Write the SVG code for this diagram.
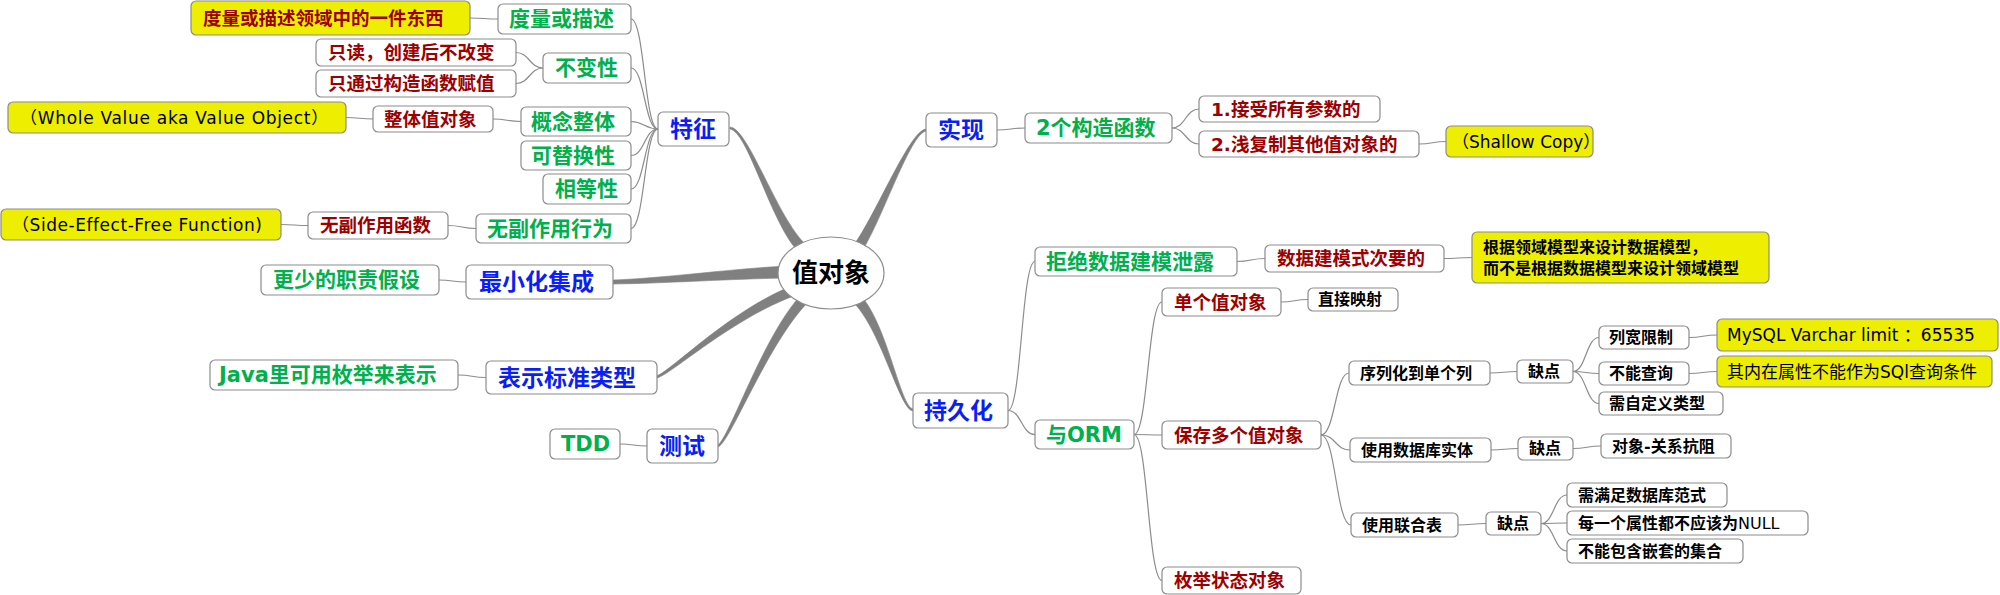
<svg xmlns="http://www.w3.org/2000/svg" width="2000" height="595" viewBox="0 0 2000 595">
<style>
.box{fill:#fff;stroke:#8c8c8c;stroke-width:1.2}
.yel{fill:#eeee00;stroke:#8c8c8c;stroke-width:1.2}
text{font-family:"DejaVu Sans","Noto Sans CJK SC",sans-serif;dominant-baseline:central}
.t1{font-size:23px;font-weight:bold;fill:#0a1ef5}
.t2{font-size:21px;font-weight:bold;fill:#00b04c}
.t3{font-size:18.5px;font-weight:bold;fill:#9c0000}
.t4{font-size:16px;font-weight:bold;fill:#000}
.ty{font-size:17px;fill:#000}
.n{font-weight:normal}
.root{font-size:26px;font-weight:bold;fill:#000}
.link{fill:none;stroke:#8c8c8c;stroke-width:1.2}
.branch{fill:#808080;stroke:#808080;stroke-width:0.6}
</style>
<g id="connectors">
<path class="branch" d="M729.9 129 C747.8 131.5 769 217.7 796.3 249.4 L803.7 242.6 C775 212.3 748.2 128.5 730.1 127 Z"/>
<path class="branch" d="M925.9 129 C909.8 130.5 876.7 212.8 853.8 245.2 L862.2 250.8 C883.3 217.2 910.2 133.5 926.1 131 Z"/>
<path class="branch" d="M613 284 C660 283.5 730 279 786 278 L786 266 C730 269 660 278.5 613 280 Z"/>
<path class="branch" d="M657.3 378 C672.5 373.4 731.4 318.7 796.8 294.7 L793.2 285.3 C728.6 311.3 671.5 370.6 656.7 376 Z"/>
<path class="branch" d="M718.4 446.9 C730.7 441.3 767.9 342.8 808.6 301.5 L801.4 294.5 C762.1 337.2 729.3 438.7 717.6 445.1 Z"/>
<path class="branch" d="M913.2 409 C900.2 406.5 888 327.3 861.7 296.7 L854.3 303.3 C882 332.7 899.8 409.5 912.8 411 Z"/>
<path class="link" d="M658 129 C644.5 129 644.5 19 631 19"/>
<path class="link" d="M658 129 C644.5 129 644.5 68 631 68"/>
<path class="link" d="M658 129 C644.5 129 644.5 121.5 631 121.5"/>
<path class="link" d="M658 129 C644.5 129 644.5 155.5 631 155.5"/>
<path class="link" d="M658 129 C644.5 129 644.5 189 631 189"/>
<path class="link" d="M658 129 C644.5 129 644.5 228.5 631 228.5"/>
<path class="link" d="M498 19 C484 19 484 18 470 18"/>
<path class="link" d="M543 68 C529.5 68 529.5 52.5 516 52.5"/>
<path class="link" d="M543 68 C529.5 68 529.5 83.5 516 83.5"/>
<path class="link" d="M521 121.5 C507 121.5 507 119 493 119"/>
<path class="link" d="M373 119 C359.5 119 359.5 117.5 346 117.5"/>
<path class="link" d="M476 228.5 C462 228.5 462 225.5 448 225.5"/>
<path class="link" d="M308 225.5 C294.5 225.5 294.5 224.5 281 224.5"/>
<path class="link" d="M466 282 C452.5 282 452.5 280 439 280"/>
<path class="link" d="M486 377.5 C472 377.5 472 375 458 375"/>
<path class="link" d="M647 446 C633.5 446 633.5 444 620 444"/>
<path class="link" d="M997 130 C1011 130 1011 128 1025 128"/>
<path class="link" d="M1172 128 C1185.5 128 1185.5 109 1199 109"/>
<path class="link" d="M1172 128 C1185.5 128 1185.5 144 1199 144"/>
<path class="link" d="M1419 144 C1432.5 144 1432.5 141.5 1446 141.5"/>
<path class="link" d="M1008 410.5 C1021.5 410.5 1021.5 261.5 1035 261.5"/>
<path class="link" d="M1008 410.5 C1021.5 410.5 1021.5 434.5 1035 434.5"/>
<path class="link" d="M1237 261.5 C1251 261.5 1251 258.5 1265 258.5"/>
<path class="link" d="M1444 258.5 C1458 258.5 1458 257.5 1472 257.5"/>
<path class="link" d="M1134 434.5 C1148 434.5 1148 302 1162 302"/>
<path class="link" d="M1134 434.5 C1148 434.5 1148 435 1162 435"/>
<path class="link" d="M1134 434.5 C1148 434.5 1148 580.5 1162 580.5"/>
<path class="link" d="M1281 302 C1294.5 302 1294.5 299.5 1308 299.5"/>
<path class="link" d="M1321 435 C1335 435 1335 373 1349 373"/>
<path class="link" d="M1321 435 C1335.5 435 1335.5 450 1350 450"/>
<path class="link" d="M1321 435 C1336 435 1336 525 1351 525"/>
<path class="link" d="M1490 373 C1503.5 373 1503.5 371.5 1517 371.5"/>
<path class="link" d="M1573 371.5 C1586 371.5 1586 337.5 1599 337.5"/>
<path class="link" d="M1573 371.5 C1586 371.5 1586 373.5 1599 373.5"/>
<path class="link" d="M1573 371.5 C1586 371.5 1586 403.5 1599 403.5"/>
<path class="link" d="M1689 337.5 C1703 337.5 1703 335 1717 335"/>
<path class="link" d="M1689 373.5 C1703 373.5 1703 371.5 1717 371.5"/>
<path class="link" d="M1491 450 C1504.5 450 1504.5 448.5 1518 448.5"/>
<path class="link" d="M1573 448.5 C1587 448.5 1587 446 1601 446"/>
<path class="link" d="M1458 525 C1472 525 1472 523.5 1486 523.5"/>
<path class="link" d="M1541 523.5 C1554 523.5 1554 495 1567 495"/>
<path class="link" d="M1541 523.5 C1554 523.5 1554 523 1567 523"/>
<path class="link" d="M1541 523.5 C1554 523.5 1554 551 1567 551"/>
</g>
<g id="root"><ellipse class="box" cx="831" cy="273" rx="53" ry="36"/><text class="root" x="831" y="273" text-anchor="middle">值对象</text></g>
<g id="n-tezheng"><rect class="box" x="658" y="112" width="71" height="34" rx="5"/><text class="t1" x="670" y="129">特征</text></g>
<g id="n-duliang"><rect class="box" x="498" y="4" width="133" height="30" rx="5"/><text class="t2" x="509" y="19">度量或描述</text></g>
<g id="n-duliang-1"><rect class="yel" x="191" y="1" width="279" height="34" rx="5"/><text class="t3" x="203" y="18">度量或描述领域中的一件东西</text></g>
<g id="n-bubian"><rect class="box" x="543" y="53" width="88" height="30" rx="5"/><text class="t2" x="555" y="68">不变性</text></g>
<g id="n-bubian-1"><rect class="box" x="316" y="39" width="200" height="27" rx="5"/><text class="t3" x="328" y="52.5">只读，创建后不改变</text></g>
<g id="n-bubian-2"><rect class="box" x="316" y="70" width="200" height="27" rx="5"/><text class="t3" x="328" y="83.5">只通过构造函数赋值</text></g>
<g id="n-gainian"><rect class="box" x="521" y="107" width="110" height="29" rx="5"/><text class="t2" x="531" y="121.5">概念整体</text></g>
<g id="n-zhengti"><rect class="box" x="373" y="106" width="120" height="26" rx="5"/><text class="t3" x="384" y="119">整体值对象</text></g>
<g id="n-wholevalue"><rect class="yel" x="8" y="102" width="338" height="31" rx="5"/><text class="ty" x="20" y="117.5" letter-spacing="0.7">（Whole Value aka Value Object）</text></g>
<g id="n-tihuan"><rect class="box" x="521" y="141" width="110" height="29" rx="5"/><text class="t2" x="531" y="155.5">可替换性</text></g>
<g id="n-xiangdeng"><rect class="box" x="543" y="174" width="88" height="30" rx="5"/><text class="t2" x="555" y="189">相等性</text></g>
<g id="n-wufuzuoyong"><rect class="box" x="476" y="214" width="155" height="29" rx="5"/><text class="t2" x="487" y="228.5">无副作用行为</text></g>
<g id="n-hanshu"><rect class="box" x="308" y="212" width="140" height="27" rx="5"/><text class="t3" x="320" y="225.5">无副作用函数</text></g>
<g id="n-sideeffect"><rect class="yel" x="1" y="209" width="280" height="31" rx="5"/><text class="ty" x="12" y="224.5" letter-spacing="0.55">（Side-Effect-Free Function)</text></g>
<g id="n-zuixiao"><rect class="box" x="466" y="265" width="147" height="34" rx="5"/><text class="t1" x="479" y="282">最小化集成</text></g>
<g id="n-gengshao"><rect class="box" x="261" y="265" width="178" height="30" rx="5"/><text class="t2" x="273" y="280">更少的职责假设</text></g>
<g id="n-biaozhun"><rect class="box" x="486" y="361" width="171" height="33" rx="5"/><text class="t1" x="498" y="377.5">表示标准类型</text></g>
<g id="n-java"><rect class="box" x="210" y="360" width="248" height="30" rx="5"/><text class="t2" x="219" y="375">Java里可用枚举来表示</text></g>
<g id="n-ceshi"><rect class="box" x="647" y="429" width="71" height="34" rx="5"/><text class="t1" x="659" y="446">测试</text></g>
<g id="n-tdd"><rect class="box" x="550" y="429" width="70" height="30" rx="5"/><text class="t2" x="561" y="444">TDD</text></g>
<g id="n-shixian"><rect class="box" x="926" y="113" width="71" height="34" rx="5"/><text class="t1" x="938" y="130">实现</text></g>
<g id="n-gouzao"><rect class="box" x="1025" y="113" width="147" height="30" rx="5"/><text class="t2" x="1036" y="128">2个构造函数</text></g>
<g id="n-gouzao-1"><rect class="box" x="1199" y="96" width="181" height="26" rx="5"/><text class="t3" x="1211" y="109">1.接受所有参数的</text></g>
<g id="n-gouzao-2"><rect class="box" x="1199" y="131" width="220" height="26" rx="5"/><text class="t3" x="1211" y="144">2.浅复制其他值对象的</text></g>
<g id="n-shallow"><rect class="yel" x="1446" y="126" width="147" height="31" rx="5"/><text class="ty" x="1452" y="141.5" font-size="16">（Shallow Copy）</text></g>
<g id="n-chijiu"><rect class="box" x="913" y="393" width="95" height="35" rx="5"/><text class="t1" x="924" y="410.5">持久化</text></g>
<g id="n-jujue"><rect class="box" x="1035" y="247" width="202" height="29" rx="5"/><text class="t2" x="1046" y="261.5">拒绝数据建模泄露</text></g>
<g id="n-ciyao"><rect class="box" x="1265" y="245" width="179" height="27" rx="5"/><text class="t3" x="1277" y="258.5">数据建模式次要的</text></g>
<g id="n-genju"><rect class="yel" x="1472" y="232" width="297" height="51" rx="5"/><text class="t4" x="1483" y="247">根据领域模型来设计数据模型，</text><text class="t4" x="1483" y="268">而不是根据数据模型来设计领域模型</text></g>
<g id="n-orm"><rect class="box" x="1035" y="420" width="99" height="29" rx="5"/><text class="t2" x="1046" y="434.5">与ORM</text></g>
<g id="n-dange"><rect class="box" x="1162" y="288" width="119" height="28" rx="5"/><text class="t3" x="1174" y="302">单个值对象</text></g>
<g id="n-zhijie"><rect class="box" x="1308" y="288" width="90" height="23" rx="5"/><text class="t4" x="1318" y="299.5">直接映射</text></g>
<g id="n-duoge"><rect class="box" x="1162" y="421" width="159" height="28" rx="5"/><text class="t3" x="1174" y="435">保存多个值对象</text></g>
<g id="n-xulie"><rect class="box" x="1349" y="361" width="141" height="24" rx="5"/><text class="t4" x="1360" y="373">序列化到单个列</text></g>
<g id="n-quedian-1"><rect class="box" x="1517" y="360" width="56" height="23" rx="5"/><text class="t4" x="1528" y="371.5">缺点</text></g>
<g id="n-liekuan"><rect class="box" x="1599" y="326" width="90" height="23" rx="5"/><text class="t4" x="1609" y="337.5">列宽限制</text></g>
<g id="n-mysql"><rect class="yel" x="1717" y="319" width="281" height="32" rx="5"/><text class="ty" x="1727" y="335">MySQL Varchar limit ：65535</text></g>
<g id="n-buneng"><rect class="box" x="1599" y="362" width="90" height="23" rx="5"/><text class="t4" x="1609" y="373.5">不能查询</text></g>
<g id="n-neizai"><rect class="yel" x="1717" y="356" width="275" height="31" rx="5"/><text class="ty" x="1727" y="371.5">其内在属性不能作为SQl查询条件</text></g>
<g id="n-zidingyi"><rect class="box" x="1599" y="392" width="124" height="23" rx="5"/><text class="t4" x="1609" y="403.5">需自定义类型</text></g>
<g id="n-shiti"><rect class="box" x="1350" y="438" width="141" height="24" rx="5"/><text class="t4" x="1361" y="450">使用数据库实体</text></g>
<g id="n-quedian-2"><rect class="box" x="1518" y="437" width="55" height="23" rx="5"/><text class="t4" x="1529" y="448.5">缺点</text></g>
<g id="n-kangzu"><rect class="box" x="1601" y="434" width="130" height="24" rx="5"/><text class="t4" x="1612" y="446">对象-关系抗阻</text></g>
<g id="n-lianhe"><rect class="box" x="1351" y="513" width="107" height="24" rx="5"/><text class="t4" x="1362" y="525">使用联合表</text></g>
<g id="n-quedian-3"><rect class="box" x="1486" y="512" width="55" height="23" rx="5"/><text class="t4" x="1497" y="523.5">缺点</text></g>
<g id="n-fanshi"><rect class="box" x="1567" y="483" width="160" height="24" rx="5"/><text class="t4" x="1578" y="495">需满足数据库范式</text></g>
<g id="n-null"><rect class="box" x="1567" y="511" width="241" height="24" rx="5"/><text class="t4" x="1578" y="523">每一个属性都不应该为<tspan class="n">NULL</tspan></text></g>
<g id="n-qiantao"><rect class="box" x="1567" y="539" width="176" height="24" rx="5"/><text class="t4" x="1578" y="551">不能包含嵌套的集合</text></g>
<g id="n-meiju"><rect class="box" x="1162" y="567" width="139" height="27" rx="5"/><text class="t3" x="1174" y="580.5">枚举状态对象</text></g>
</svg>
